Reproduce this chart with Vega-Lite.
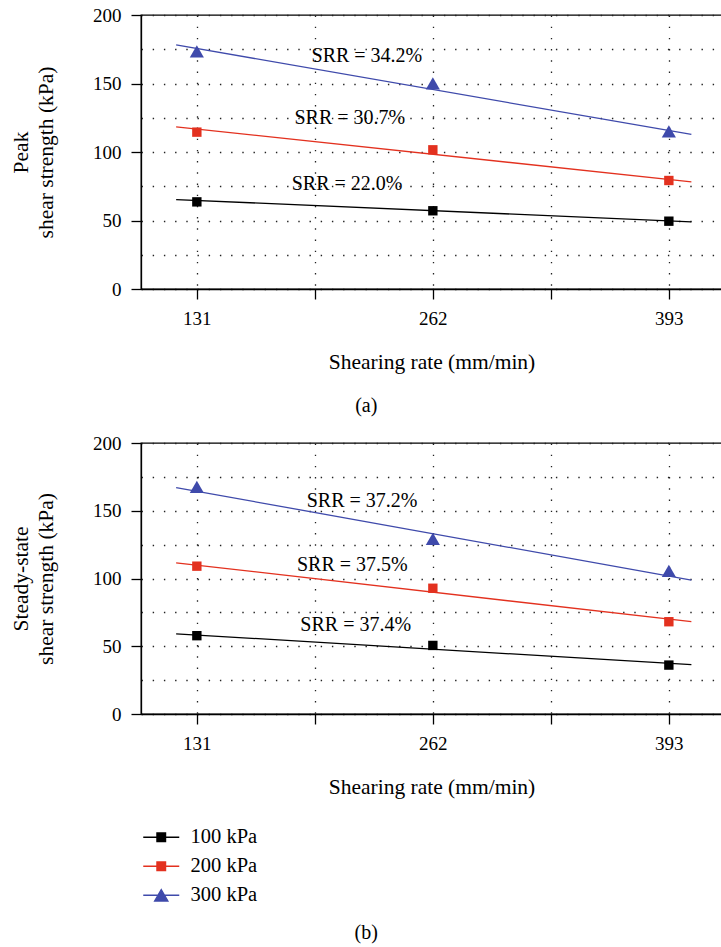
{
  "$schema": "https://vega.github.io/schema/vega-lite/v6.json",
  "background": "white",
  "padding": {"left": 9, "top": 5, "right": 0, "bottom": 0},
  "spacing": 16,
  "config": {
    "font": "Liberation Serif",
    "view": {"stroke": "black", "strokeWidth": 1.3},
    "axis": {
      "domainColor": "black",
      "domainWidth": 1.3,
      "tickColor": "black",
      "tickWidth": 1.3,
      "tickSize": 10,
      "labelColor": "black",
      "labelFontSize": 19,
      "labelFont": "Liberation Serif",
      "titleFont": "Liberation Serif",
      "titleFontSize": 21.5,
      "titleFontWeight": "normal",
      "titleColor": "black",
      "grid": true,
      "gridColor": "#222222",
      "gridWidth": 1.3,
      "gridDash": [1.4, 9.8],
      "zindex": 1
    },
    "title": {"font": "Liberation Serif", "fontSize": 20, "fontWeight": "normal", "color": "black"}
  },
  "datasets": {
    "peakPoints": [
      {"rate": 131, "stress": "100 kPa", "value": 63.6},
      {"rate": 262, "stress": "100 kPa", "value": 57.1},
      {"rate": 393, "stress": "100 kPa", "value": 49.5},
      {"rate": 131, "stress": "200 kPa", "value": 114.5},
      {"rate": 262, "stress": "200 kPa", "value": 101.6},
      {"rate": 393, "stress": "200 kPa", "value": 79.2},
      {"rate": 131, "stress": "300 kPa", "value": 173.4},
      {"rate": 262, "stress": "300 kPa", "value": 150.1},
      {"rate": 393, "stress": "300 kPa", "value": 115.0}
    ],
    "peakFits": [
      {"rate": 119.5, "stress": "100 kPa", "value": 65.3},
      {"rate": 405.5, "stress": "100 kPa", "value": 49.0},
      {"rate": 119.5, "stress": "200 kPa", "value": 118.4},
      {"rate": 405.5, "stress": "200 kPa", "value": 78.2},
      {"rate": 119.5, "stress": "300 kPa", "value": 178.2},
      {"rate": 405.5, "stress": "300 kPa", "value": 112.8}
    ],
    "peakLabels": [
      {"rate": 225.4, "value": 165.8, "label": "SRR = 34.2%"},
      {"rate": 215.9, "value": 120.6, "label": "SRR = 30.7%"},
      {"rate": 214.4, "value": 71.9, "label": "SRR = 22.0%"}
    ],
    "steadyPoints": [
      {"rate": 131, "stress": "100 kPa", "value": 57.8},
      {"rate": 262, "stress": "100 kPa", "value": 50.6},
      {"rate": 393, "stress": "100 kPa", "value": 36.1},
      {"rate": 131, "stress": "200 kPa", "value": 109.1},
      {"rate": 262, "stress": "200 kPa", "value": 92.8},
      {"rate": 393, "stress": "200 kPa", "value": 68.1},
      {"rate": 131, "stress": "300 kPa", "value": 167.6},
      {"rate": 262, "stress": "300 kPa", "value": 129.3},
      {"rate": 393, "stress": "300 kPa", "value": 105.7}
    ],
    "steadyFits": [
      {"rate": 119.5, "stress": "100 kPa", "value": 59.2},
      {"rate": 405.5, "stress": "100 kPa", "value": 36.4},
      {"rate": 119.5, "stress": "200 kPa", "value": 111.6},
      {"rate": 405.5, "stress": "200 kPa", "value": 68.1},
      {"rate": 119.5, "stress": "300 kPa", "value": 167.1},
      {"rate": 405.5, "stress": "300 kPa", "value": 98.8}
    ],
    "steadyLabels": [
      {"rate": 222.7, "value": 152.8, "label": "SRR = 37.2%"},
      {"rate": 217.3, "value": 105.4, "label": "SRR = 37.5%"},
      {"rate": 219.2, "value": 60.9, "label": "SRR = 37.4%"}
    ]
  },
  "resolve": {"scale": {"color": "independent", "y": "independent", "x": "independent"}, "legend": {"color": "independent"}},
  "vconcat": [
    {
      "width": 581,
      "height": 274,
      "title": {"text": "(a)", "orient": "bottom", "anchor": "middle", "frame": "bounds", "offset": 23},
      "encoding": {
        "x": {
          "field": "rate", "type": "quantitative",
          "scale": {"domain": [100, 422.5], "nice": false, "zero": false},
          "axis": {
            "values": [131, 196.5, 262, 327.5, 393],
            "labelExpr": "datum.value === 196.5 || datum.value === 327.5 ? '' : datum.label",
            "labelPadding": 10,
            "titlePadding": 23,
            "title": "Shearing rate (mm/min)"
          }
        },
        "y": {
          "field": "value", "type": "quantitative",
          "scale": {"domain": [0, 200], "nice": false},
          "axis": {
            "values": [0, 25, 50, 75, 100, 125, 150, 175, 200],
            "labelExpr": "datum.value % 50 === 0 ? datum.label : ''",
            "tickColor": {"condition": {"test": "datum.value % 50 === 0", "value": "black"}, "value": "transparent"},
            "labelPadding": 10,
            "titlePadding": 35,
            "titleLineHeight": 25,
            "title": ["Peak", "shear strength (kPa)"]
          }
        }
      },
      "layer": [
        {
          "data": {"name": "peakFits"},
          "mark": {"type": "line", "strokeWidth": 1.3},
          "encoding": {
            "color": {"field": "stress", "type": "nominal",
              "scale": {"domain": ["100 kPa", "200 kPa", "300 kPa"], "range": ["#000000", "#e3311f", "#3f4aab"]},
              "legend": null}
          }
        },
        {
          "data": {"name": "peakPoints"},
          "transform": [{"filter": "datum.stress !== '300 kPa'"}],
          "mark": {"type": "square", "size": 88, "opacity": 1},
          "encoding": {"color": {"field": "stress", "type": "nominal", "legend": null}}
        },
        {
          "data": {"name": "peakPoints"},
          "transform": [{"filter": "datum.stress === '300 kPa'"}],
          "mark": {"type": "point", "shape": "triangle-up", "filled": true, "size": 200, "opacity": 1},
          "encoding": {"color": {"field": "stress", "type": "nominal", "legend": null}}
        },
        {
          "data": {"name": "peakLabels"},
          "mark": {"type": "text", "fontSize": 20, "align": "center", "baseline": "alphabetic", "color": "black", "font": "Liberation Serif"},
          "encoding": {"text": {"field": "label"}}
        }
      ]
    },
    {
      "width": 581,
      "height": 271,
      "title": {"text": "(b)", "orient": "bottom", "anchor": "middle", "frame": "bounds", "offset": 17},
      "encoding": {
        "x": {
          "field": "rate", "type": "quantitative",
          "scale": {"domain": [100, 422.5], "nice": false, "zero": false},
          "axis": {
            "values": [131, 196.5, 262, 327.5, 393],
            "labelExpr": "datum.value === 196.5 || datum.value === 327.5 ? '' : datum.label",
            "labelPadding": 10,
            "titlePadding": 23,
            "title": "Shearing rate (mm/min)"
          }
        },
        "y": {
          "field": "value", "type": "quantitative",
          "scale": {"domain": [0, 200], "nice": false},
          "axis": {
            "values": [0, 25, 50, 75, 100, 125, 150, 175, 200],
            "labelExpr": "datum.value % 50 === 0 ? datum.label : ''",
            "tickColor": {"condition": {"test": "datum.value % 50 === 0", "value": "black"}, "value": "transparent"},
            "labelPadding": 10,
            "titlePadding": 35,
            "titleLineHeight": 25,
            "title": ["Steady-state", "shear strength (kPa)"]
          }
        }
      },
      "layer": [
        {
          "data": {"name": "steadyFits"},
          "mark": {"type": "line", "strokeWidth": 1.3},
          "encoding": {
            "color": {"field": "stress", "type": "nominal",
              "scale": {"domain": ["100 kPa", "200 kPa", "300 kPa"], "range": ["#000000", "#e3311f", "#3f4aab"]},
              "legend": {
                "title": null,
                "orient": "none",
                "legendX": 10,
                "legendY": 384,
                "direction": "vertical",
                "labelFont": "Liberation Serif",
                "labelFontSize": 20.5,
                "labelColor": "black",
                "labelOffset": 19,
                "rowPadding": 8,
                "symbolSize": 324,
                "encode": {
                  "symbols": {
                    "update": {
                      "shape": {"signal": "datum.value === '300 kPa' ? 'M-2,0H2M0,-0.64L0.74,0.64H-0.74Z' : 'M-2,0H2M-0.48,-0.48H0.48V0.48H-0.48Z'"},
                      "fill": {"signal": "datum.value === '100 kPa' ? '#000000' : datum.value === '200 kPa' ? '#e3311f' : '#3f4aab'"},
                      "stroke": {"signal": "datum.value === '100 kPa' ? '#000000' : datum.value === '200 kPa' ? '#e3311f' : '#3f4aab'"},
                      "strokeWidth": {"value": 1.3},
                      "opacity": {"value": 1},
                      "fillOpacity": {"value": 1}
                    }
                  }
                }
              }
            }
          }
        },
        {
          "data": {"name": "steadyPoints"},
          "transform": [{"filter": "datum.stress !== '300 kPa'"}],
          "mark": {"type": "square", "size": 88, "opacity": 1},
          "encoding": {"color": {"field": "stress", "type": "nominal", "legend": null}}
        },
        {
          "data": {"name": "steadyPoints"},
          "transform": [{"filter": "datum.stress === '300 kPa'"}],
          "mark": {"type": "point", "shape": "triangle-up", "filled": true, "size": 200, "opacity": 1},
          "encoding": {"color": {"field": "stress", "type": "nominal", "legend": null}}
        },
        {
          "data": {"name": "steadyLabels"},
          "mark": {"type": "text", "fontSize": 20, "align": "center", "baseline": "alphabetic", "color": "black", "font": "Liberation Serif"},
          "encoding": {"text": {"field": "label"}}
        }
      ]
    }
  ]
}
